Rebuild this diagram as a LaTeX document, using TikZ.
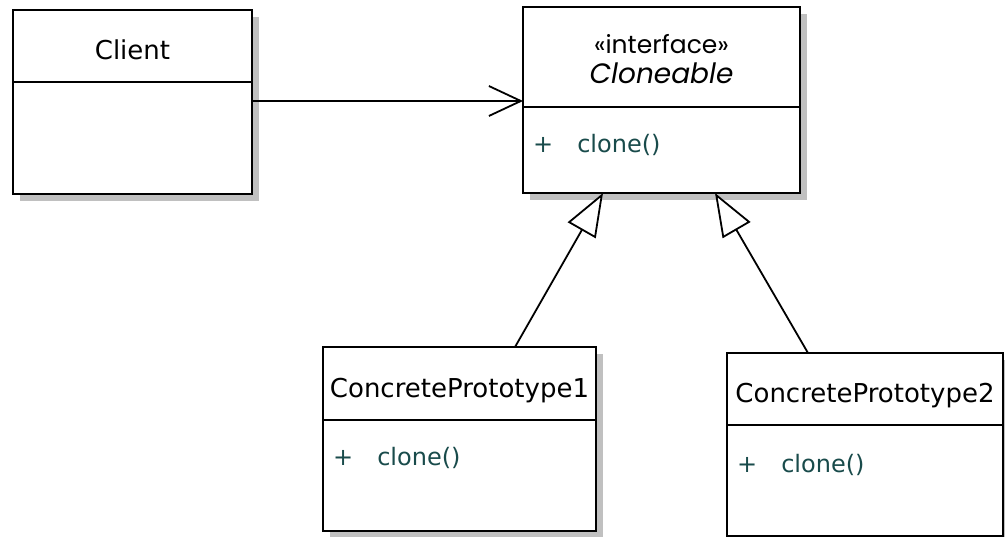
\documentclass[tikz,border=0pt]{standalone}
\usepackage{fontspec}
\setmainfont{DejaVu Sans}
\newfontfamily\popfont{Poppins}
\usetikzlibrary{positioning,arrows.meta,shadows}
\definecolor{opteal}{RGB}{25,75,75}
\definecolor{shadowgray}{RGB}{192,192,192}

\begin{document}
\begin{tikzpicture}[x=1pt, y=-1pt, line width=2.3pt,
  assoc/.style={line width=1.8pt, -{Straight Barb[length=32pt, width=30pt]}},
  inherit/.style={line width=1.8pt, -{Triangle[open, fill=white, length=43pt, width=32pt]}},
  cname/.style={text height=28pt, text depth=0pt}]
\tikzstyle{classbox}=[draw, fill=white, inner sep=0pt, outer sep=0pt,
  drop shadow={shadow xshift=7pt, shadow yshift=-7pt, fill=shadowgray, opacity=1},
  font=\fontsize{26}{30}\selectfont]
\tikzstyle{op}=[inner sep=0pt, anchor=west, text=opteal, font=\fontsize{24}{28}\selectfont]
\useasboundingbox (0,0) rectangle (1005,537);
% classes
\node[classbox, cname, anchor=north west, minimum width=239pt, minimum height=72pt] (clhead) at (13,10) {Client};
\node[classbox, minimum width=239pt, minimum height=112pt, below=0pt of clhead] (clbody) {};
\node[classbox, anchor=north west, minimum width=277pt, minimum height=100pt, align=center,
  text height=54pt, text depth=0pt] (ifhead) at (523,7)
  {\popfont\fontsize{25}{35}\selectfont «interface»\\ \popfont\itshape\fontsize{28}{35}\selectfont Cloneable};
\node[classbox, minimum width=277pt, minimum height=86pt, below=0pt of ifhead] (ifbody) {};
\node[classbox, cname, anchor=north west, minimum width=273pt, minimum height=73pt] (cahead) at (323,347) {ConcretePrototype1};
\node[classbox, minimum width=273pt, minimum height=111pt, below=0pt of cahead] (cabody) {};
\node[classbox, cname, anchor=north west, minimum width=276pt, minimum height=72pt] (cbhead) at (727,353) {ConcretePrototype2};
\node[classbox, minimum width=276pt, minimum height=111pt, below=0pt of cbhead] (cbbody) {};
% operations
\node[op] (ifop) at ([shift={(9,38)}]ifbody.north west) {+\hspace{24pt}clone()};
\node[op] (caop) at ([shift={(9,38)}]cabody.north west) {+\hspace{24pt}clone()};
\node[op] (cbop) at ([shift={(9,40)}]cbbody.north west) {+\hspace{24pt}clone()};
% relations
\coordinate (clout) at ([yshift=-19pt]clbody.north east);
\draw[assoc] (clout) -- (clout -| ifhead.west);
\foreach \a/\sa/\b/\sb in {cahead/55.5/ifbody/-58.5, cbhead/-57/ifbody/53.5}{\draw[inherit] ([xshift=\sa pt]\a.north) -- ([xshift=\sb pt]\b.south);}
\end{tikzpicture}
\end{document}
